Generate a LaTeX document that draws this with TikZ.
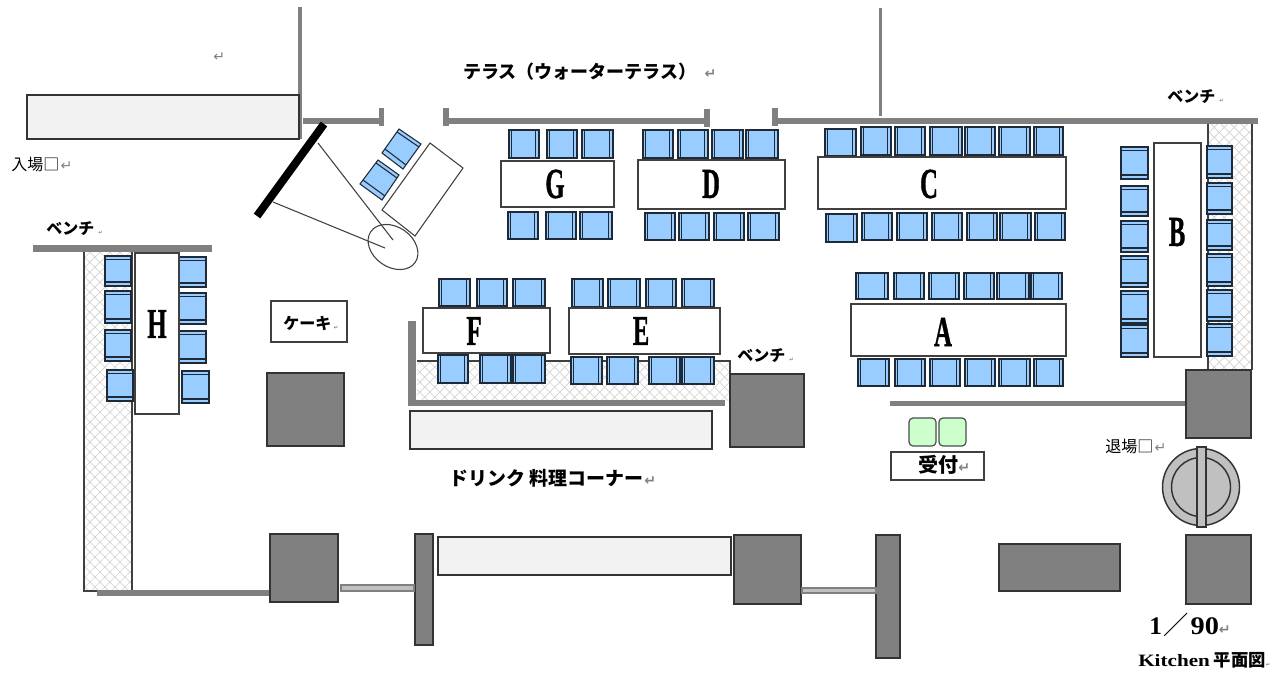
\documentclass[tikz,border=0pt]{standalone}
\usepackage{fontspec}
\usepackage{graphicx}
\usetikzlibrary{patterns.meta}
\newfontfamily\jp{Noto Sans CJK JP}
\newfontfamily\dv{DejaVu Sans}
\newfontfamily\ser{Liberation Serif}
\newfontfamily\letterfont[FakeBold=1.2]{Liberation Serif Bold}
\definecolor{seat}{HTML}{99CCFF}
\definecolor{seatline}{HTML}{1E2A38}
\definecolor{blockgray}{HTML}{808080}
\definecolor{lightbox}{HTML}{F2F2F2}
\definecolor{mint}{HTML}{CCFFCC}
\definecolor{railgray}{HTML}{C0C0C0}
\definecolor{hatchgray}{HTML}{D2D2D2}
\newcommand{\rtn}{{\dv\color{gray}\fontsize{10.5}{10.5}\selectfont ↵}}
\newcommand{\rts}{{\dv\color{gray}\fontsize{4}{4}\selectfont ↵}}
\newcommand{\bigletter}[1]{\scalebox{.58}[1]{\letterfont\fontsize{32}{32}\selectfont #1}}
% chair with bands at its left and right
\newcommand{\chairH}[4]{%
  \draw[seatstyle] (#1,#3) rectangle (#2,#4);
  \draw[seatbar] ({#1+2.5},#3) -- ({#1+2.5},#4) ({#2-3.5},#3) -- ({#2-3.5},#4);
}
% chair with bands at its top and bottom
\newcommand{\chairV}[4]{%
  \draw[seatstyle] (#1,#3) rectangle (#2,#4);
  \draw[seatbar] (#1,{#3+3.5}) -- (#2,{#3+3.5}) (#1,{#4-4}) -- (#2,{#4-4});
}
\newcommand{\hatchbox}[4]{%
  \fill[white] (#1,#3) rectangle (#2,#4);
  \fill[pattern={Lines[angle=45,distance=5.3pt,line width=.5pt]},pattern color=hatchgray] (#1,#3) rectangle (#2,#4);
  \fill[pattern={Lines[angle=-45,distance=5.3pt,line width=.5pt]},pattern color=hatchgray] (#1,#3) rectangle (#2,#4);
}
\tikzset{
  seatstyle/.style={draw=seatline,fill=seat,line width=.8pt},
  seatbar/.style={draw=seatline,line width=.8pt},
  tablebox/.style={draw=black!75,fill=white,line width=.9pt},
  grayblock/.style={draw=black!80,fill=blockgray,line width=1pt},
  lightblock/.style={draw=black!80,fill=lightbox,line width=.9pt},
  wall/.style={draw=blockgray,line width=3.9pt},
  thinwall/.style={draw=blockgray,line width=2.6pt},
  railbar/.style={draw=gray,fill=railgray,line width=.9pt},
  edgeline/.style={draw=black!75,line width=.9pt},
  jptext/.style={inner sep=0pt,anchor=west,font=\jp\fontsize{12}{12}\selectfont},
  jpbold/.style={inner sep=0pt,anchor=west,font=\jp\bfseries\fontsize{12}{12}\selectfont},
  tableletter/.style={inner sep=0pt,anchor=center},
}
\begin{document}
\begin{tikzpicture}[x=.75pt,y=-.75pt]
\useasboundingbox (0,0) rectangle (1276,672);
% hatched benches
\hatchbox{84}{132}{252}{591}
\draw[edgeline] (84,252) -- (84,591) -- (132,591) -- (132,252);
\hatchbox{1208}{1252}{122}{370}
\draw[edgeline] (1208,122) -- (1208,370) (1252,122) -- (1252,370);
\hatchbox{417}{730}{361}{400}
\draw[edgeline] (417,361) -- (730,361) -- (730,400);
% walls
\draw[thinwall] (300,7) -- (300,139);
\draw[thinwall] (880.5,8) -- (880.5,116);
\draw[wall] (303,121) -- (382,121);
\draw[wall] (381.5,108) -- (381.5,126);
\draw[wall] (446,108) -- (446,126);
\draw[wall] (446,121) -- (707,121);
\draw[wall] (707,109) -- (707,127);
\draw[wall] (775,108) -- (775,126);
\draw[wall] (775,121) -- (1258,121);
\draw[blockgray,line width=5pt] (33,248.5) -- (212,248.5);
\draw[wall] (890,403.5) -- (1186,403.5);
\draw[wall] (97,593) -- (269,593);
\draw[blockgray,line width=6.5pt] (412,321) -- (412,406);
\draw[blockgray,line width=4.6pt] (408,403) -- (725,403);
% blocks
\draw[lightblock] (27,95) rectangle (299,139);
\draw[lightblock] (410,411) rectangle (712,449);
\draw[lightblock] (438,537) rectangle (731,575);
\draw[grayblock] (267,373) rectangle (344,446);
\draw[grayblock] (730,374) rectangle (804,447);
\draw[grayblock] (1186,370) rectangle (1251,438);
\draw[grayblock] (1186,535) rectangle (1251,604);
\draw[grayblock] (270,534) rectangle (338,602);
\draw[grayblock] (734,535) rectangle (801,604);
\draw[grayblock] (999,544) rectangle (1120,591);
\draw[grayblock] (415,534) rectangle (433,645);
\draw[grayblock] (876,535) rectangle (900,658);
\draw[railbar] (341,585) rectangle (414,591);
\draw[railbar] (802,588) rectangle (876,593);
% screen and projection
\draw[black,line width=6pt] (324,124) -- (257,216);
\draw[black!75,line width=.8pt] (318,143) -- (393,240);
\draw[black!75,line width=.8pt] (273,202) -- (385,248);
\draw[black!75,line width=.8pt,rotate around={-35:(393,247)}] (393,247) ellipse [x radius=27,y radius=20];
\draw[black!75,fill=white,line width=.8pt] (430,143) -- (463,168) -- (415,236) -- (382,210) -- cycle;
\draw[seatstyle] (399,129) -- (421,144) -- (403,169) -- (382,153) -- cycle;
\draw[seatbar] (397,132) -- (419,147) (385,149) -- (406,165);
\draw[seatstyle] (378,160) -- (399,175) -- (382,200) -- (360,184) -- cycle;
\draw[seatbar] (376,163) -- (397,178) (363,180) -- (385,196);
% chairs
\foreach \a/\b in {509/539,547/577,582/613} {\chairH{\a}{\b}{130}{158}}
\foreach \a/\b in {508/538,546/576,580/612} {\chairH{\a}{\b}{212}{239}}
\foreach \a/\b in {643/673,678/708,712/743,746/778} {\chairH{\a}{\b}{130}{158}}
\foreach \a/\b in {645/675,679/709,714/744,748/779} {\chairH{\a}{\b}{213}{240}}
\chairH{825}{856}{129}{156}
\foreach \a/\b in {861/891,895/925,930/962,965/995,999/1030,1034/1063} {\chairH{\a}{\b}{127}{155}}
\chairH{826}{857}{214}{242}
\foreach \a/\b in {862/892,897/927,932/962,967/997,1000/1031,1035/1065} {\chairH{\a}{\b}{213}{240}}
\foreach \a/\b in {856/888,894/924,929/959,964/994,997/1029,1031/1062} {\chairH{\a}{\b}{273}{299}}
\foreach \a/\b in {858/889,895/925,930/960,965/995,999/1030,1034/1063} {\chairH{\a}{\b}{359}{386}}
\foreach \a/\b in {439/470,477/507,513/545} {\chairH{\a}{\b}{279}{306}}
\foreach \a/\b in {438/468,480/511,513/545} {\chairH{\a}{\b}{355}{383}}
\foreach \a/\b in {572/603,608/640,646/676,682/714} {\chairH{\a}{\b}{279}{307}}
\foreach \a/\b in {571/602,607/638,649/680,682/714} {\chairH{\a}{\b}{357}{384}}
\foreach \a/\b in {147/179,186/216,221/252,256/287,291/323,325/357} {\chairV{1121}{1148}{\a}{\b}}
\foreach \a/\b in {146/178,183/214,220/250,254/286,290/321,324/356} {\chairV{1207}{1232}{\a}{\b}}
\foreach \a/\b in {256/286,291/323,330/361} {\chairV{105}{131}{\a}{\b}}
\chairV{107}{133}{370}{401}
\foreach \a/\b in {257/287,293/324,331/363} {\chairV{179}{206}{\a}{\b}}
\chairV{182}{209}{371}{403}
% tables
\draw[tablebox] (501,161) rectangle (614,207);
\draw[tablebox] (638,160) rectangle (785,209);
\draw[tablebox] (818,157) rectangle (1066,209);
\draw[tablebox] (851,304) rectangle (1066,356);
\draw[tablebox] (1154,143) rectangle (1201,357);
\draw[tablebox] (135,253) rectangle (179,414);
\draw[tablebox] (423,308) rectangle (550,353);
\draw[tablebox] (569,308) rectangle (720,354);
\draw[tablebox] (271,301) rectangle (347,342);
\draw[tablebox] (891,452) rectangle (984,480);
\node[tableletter] (tG) at (555,184) {\bigletter{G}};
\node[tableletter] (tD) at (711,184) {\bigletter{D}};
\node[tableletter] (tC) at (929,184) {\bigletter{C}};
\node[tableletter] (tA) at (943,332) {\bigletter{A}};
\node[tableletter] (tB) at (1177,232) {\bigletter{B}};
\node[tableletter] (tH) at (157,324) {\bigletter{H}};
\node[tableletter] (tF) at (474,331) {\bigletter{F}};
\node[tableletter] (tE) at (641,331) {\bigletter{E}};
% reception
\draw[draw=black!70,fill=mint,line width=.9pt,rounded corners=3pt] (909,418) rectangle (936,446);
\draw[draw=black!70,fill=mint,line width=.9pt,rounded corners=3pt] (939,418) rectangle (966,446);
% revolving door
\draw[black!80,fill=railgray,line width=1.1pt] (1201,487) circle (38.5);
\draw[black!80,line width=1.1pt] (1201,487) circle (29.5);
\draw[black!80,fill=railgray,line width=1.1pt] (1197,447) rectangle (1206,527);
% texts
\node[jpbold,font=\jp\bfseries\fontsize{13.5}{13.5}\selectfont] (terrace) at (463,72) {テラス（ウォーターテラス）\hspace{6pt}\rtn};
\node[jptext] (ret) at (213,57) {\rtn};
\node[jptext] (entry) at (11,165) {入場□\hspace{1pt}\rtn};
\node[jptext] (exit) at (1105,447) {退場□\hspace{1pt}\rtn};
\node[jpbold] (bench1) at (46,229) {ベンチ\hspace{3pt}\rts};
\node[jpbold] (bench2) at (737,356) {ベンチ\hspace{3pt}\rts};
\node[jpbold] (bench3) at (1167,97) {ベンチ\hspace{3pt}\rts};
\node[jpbold] (cake) at (283,323) {ケーキ\hspace{2pt}\rts};
\node[jpbold,font=\jp\bfseries\fontsize{14.2}{14.2}\selectfont] (drink) at (449,478) {ドリンク 料理コーナー\hspace{1pt}\rtn};
\node[jpbold,font=\jp\bfseries\fontsize{15}{15}\selectfont] (recep) at (918,465) {受付\rtn};
\node[inner sep=0pt,anchor=west] (scale) at (1149,625) {\ser\bfseries\fontsize{19}{19}\selectfont 1\hspace{1pt}{\jp\mdseries ／}\hspace{1.5pt}\scalebox{1.12}[1]{90}\rtn};
\node[inner sep=0pt,anchor=west] (title) at (1138,660) {\ser\bfseries\fontsize{13}{13}\selectfont\scalebox{1.22}[1]{Kitchen}\hspace{3pt}{\jp\bfseries 平面図}\rts};
\end{tikzpicture}
\end{document}
